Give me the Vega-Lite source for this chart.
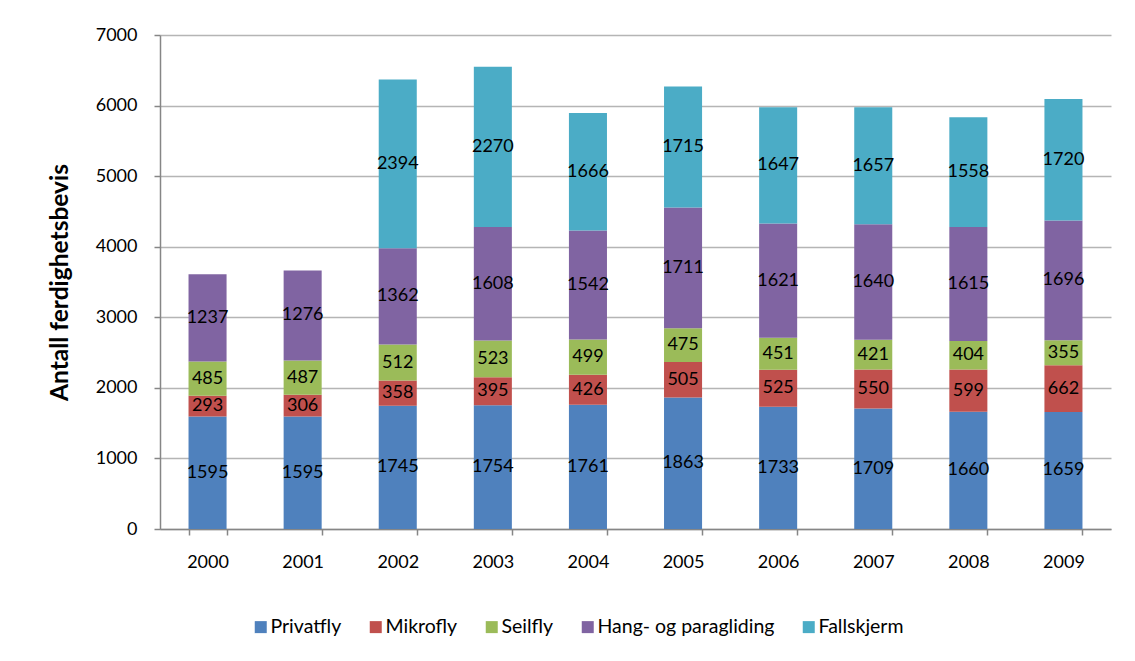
{
  "$schema": "https://vega.github.io/schema/vega-lite/v6.json",
  "width": 951,
  "height": 494,
  "autosize": {"type": "none"},
  "padding": {"left": 160, "top": 35, "right": 24, "bottom": 132},
  "background": "white",
  "config": {"view": {"stroke": null}, "font": "Lato"},
  "data": {
    "values": [
      {"year": "2000", "type": "Privatfly", "value": 1595},
      {"year": "2000", "type": "Mikrofly", "value": 293},
      {"year": "2000", "type": "Seilfly", "value": 485},
      {"year": "2000", "type": "Hang- og paragliding", "value": 1237},
      {"year": "2001", "type": "Privatfly", "value": 1595},
      {"year": "2001", "type": "Mikrofly", "value": 306},
      {"year": "2001", "type": "Seilfly", "value": 487},
      {"year": "2001", "type": "Hang- og paragliding", "value": 1276},
      {"year": "2002", "type": "Privatfly", "value": 1745},
      {"year": "2002", "type": "Mikrofly", "value": 358},
      {"year": "2002", "type": "Seilfly", "value": 512},
      {"year": "2002", "type": "Hang- og paragliding", "value": 1362},
      {"year": "2002", "type": "Fallskjerm", "value": 2394},
      {"year": "2003", "type": "Privatfly", "value": 1754},
      {"year": "2003", "type": "Mikrofly", "value": 395},
      {"year": "2003", "type": "Seilfly", "value": 523},
      {"year": "2003", "type": "Hang- og paragliding", "value": 1608},
      {"year": "2003", "type": "Fallskjerm", "value": 2270},
      {"year": "2004", "type": "Privatfly", "value": 1761},
      {"year": "2004", "type": "Mikrofly", "value": 426},
      {"year": "2004", "type": "Seilfly", "value": 499},
      {"year": "2004", "type": "Hang- og paragliding", "value": 1542},
      {"year": "2004", "type": "Fallskjerm", "value": 1666},
      {"year": "2005", "type": "Privatfly", "value": 1863},
      {"year": "2005", "type": "Mikrofly", "value": 505},
      {"year": "2005", "type": "Seilfly", "value": 475},
      {"year": "2005", "type": "Hang- og paragliding", "value": 1711},
      {"year": "2005", "type": "Fallskjerm", "value": 1715},
      {"year": "2006", "type": "Privatfly", "value": 1733},
      {"year": "2006", "type": "Mikrofly", "value": 525},
      {"year": "2006", "type": "Seilfly", "value": 451},
      {"year": "2006", "type": "Hang- og paragliding", "value": 1621},
      {"year": "2006", "type": "Fallskjerm", "value": 1647},
      {"year": "2007", "type": "Privatfly", "value": 1709},
      {"year": "2007", "type": "Mikrofly", "value": 550},
      {"year": "2007", "type": "Seilfly", "value": 421},
      {"year": "2007", "type": "Hang- og paragliding", "value": 1640},
      {"year": "2007", "type": "Fallskjerm", "value": 1657},
      {"year": "2008", "type": "Privatfly", "value": 1660},
      {"year": "2008", "type": "Mikrofly", "value": 599},
      {"year": "2008", "type": "Seilfly", "value": 404},
      {"year": "2008", "type": "Hang- og paragliding", "value": 1615},
      {"year": "2008", "type": "Fallskjerm", "value": 1558},
      {"year": "2009", "type": "Privatfly", "value": 1659},
      {"year": "2009", "type": "Mikrofly", "value": 662},
      {"year": "2009", "type": "Seilfly", "value": 355},
      {"year": "2009", "type": "Hang- og paragliding", "value": 1696},
      {"year": "2009", "type": "Fallskjerm", "value": 1720}
    ]
  },
  "transform": [
    {"stack": "value", "groupby": ["year"], "as": ["y0", "y1"]},
    {"calculate": "(datum.y0 + datum.y1) / 2", "as": "ymid"}
  ],
  "encoding": {
    "x": {
      "field": "year",
      "type": "nominal",
      "scale": {"paddingInner": 0.6, "paddingOuter": 0.3},
      "axis": {
        "title": null,
        "labelAngle": 0,
        "tickBand": "extent",
        "domainColor": "#868686",
        "domainWidth": 1.5,
        "tickColor": "#868686",
        "tickWidth": 1.5,
        "tickSize": 6,
        "labelFontSize": 18,
        "labelPadding": 18,
        "labelColor": "black",
        "grid": false
      }
    }
  },
  "layer": [
    {
      "mark": {"type": "bar"},
      "encoding": {
        "y": {
          "field": "y0",
          "type": "quantitative",
          "scale": {"domain": [0, 7000], "nice": false},
          "axis": {
            "title": "Antall ferdighetsbevis",
            "titleFontSize": 24.5,
            "titleFontWeight": "bold",
            "titleColor": "black",
            "titlePadding": 23,
            "values": [0, 500, 1000, 1500, 2000, 2500, 3000, 3500, 4000, 4500, 5000, 5500, 6000, 6500, 7000],
            "format": "d",
            "labelExpr": "datum.value % 1000 === 0 ? datum.label : ''",
            "labelFontSize": 18,
            "labelPadding": 17,
            "labelColor": "black",
            "tickSize": 6,
            "tickColor": "#868686",
            "tickWidth": 1.5,
            "tickOpacity": {"condition": {"test": "datum.value % 1000 === 0", "value": 1}, "value": 0},
            "domainColor": "#868686",
            "domainWidth": 1.5,
            "gridColor": "#b5b5b5",
            "gridWidth": 1.5
          }
        },
        "y2": {"field": "y1"},
        "color": {
          "field": "type",
          "type": "nominal",
          "scale": {
            "domain": ["Privatfly", "Mikrofly", "Seilfly", "Hang- og paragliding", "Fallskjerm"],
            "range": ["#4F81BD", "#C0504D", "#9BBB59", "#8064A2", "#4BACC6"]
          },
          "legend": {
            "orient": "none",
            "legendX": 91,
            "legendY": 582,
            "direction": "horizontal",
            "title": null,
            "symbolType": "square",
            "symbolSize": 144,
            "symbolStrokeWidth": 0,
            "labelFontSize": 19.5,
            "labelLimit": 400,
            "labelColor": "black",
            "labelOffset": 0,
            "columnPadding": 24
          }
        }
      }
    },
    {
      "mark": {"type": "text", "fontSize": 18, "color": "black"},
      "encoding": {
        "y": {"field": "ymid", "type": "quantitative"},
        "text": {"field": "value", "type": "quantitative", "format": "d"}
      }
    }
  ]
}
